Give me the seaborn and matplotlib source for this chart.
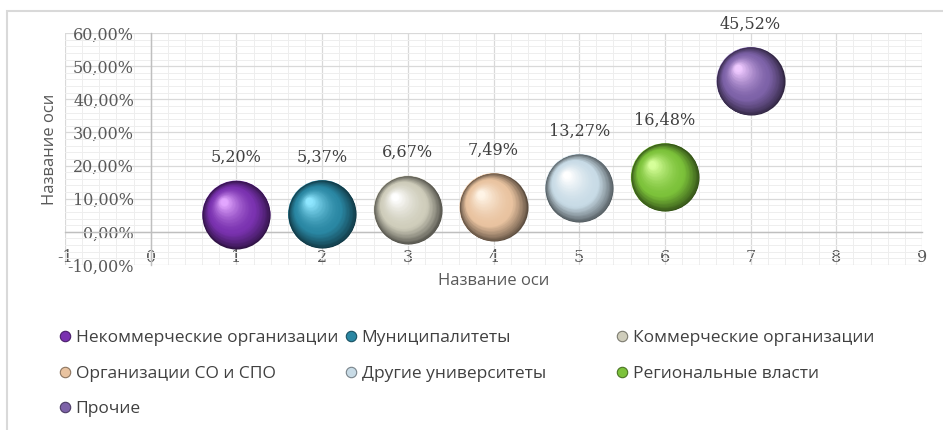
import numpy as np
import pandas as pd
import matplotlib
matplotlib.use("Agg")
import matplotlib.pyplot as plt
import matplotlib.transforms as mtransforms
from matplotlib.colors import to_rgb
from matplotlib.lines import Line2D
from matplotlib.patches import Rectangle
from matplotlib.ticker import FuncFormatter, MultipleLocator
import seaborn as sns

# --- data -------------------------------------------------------------
categories = [
    "Некоммерческие организации",
    "Муниципалитеты",
    "Коммерческие организации",
    "Организации СО и СПО",
    "Другие университеты",
    "Региональные власти",
    "Прочие",
]
positions = [1, 2, 3, 4, 5, 6, 7]
shares = [5.20, 5.37, 6.67, 7.49, 13.27, 16.48, 45.52]
colors = ["#7a32b0", "#2a87a3", "#cfcdbb", "#e9c3a0", "#c8dbe6", "#7cc23a", "#7d62a8"]
highlights = ["#e2a6ff", "#8ee6ff", "#ffffff", "#fff4e6", "#ffffff", "#d6ff9a", "#efc9ff"]
x_ticks = list(range(-1, 10))
y_ticks = list(range(-10, 61, 10))

df = pd.DataFrame({"cat": categories, "x": positions, "share": shares})

sns.set_theme(style="white")
plt.rcParams["font.family"] = ["DejaVu Sans"]

fig = plt.figure(figsize=(9.43, 4.30), dpi=100)
ax = fig.add_axes([65 / 943, 1 - 265 / 430, (922 - 65) / 943, (265 - 33) / 430])

ax.set_xlim(-1, 9)
ax.set_ylim(-10, 60)

# grid
ax.xaxis.set_major_locator(MultipleLocator(1))
ax.xaxis.set_minor_locator(MultipleLocator(0.2))
ax.yaxis.set_major_locator(MultipleLocator(10))
ax.yaxis.set_minor_locator(MultipleLocator(2))
ax.grid(which="major", color="#d9d9d9", lw=0.9)
ax.grid(which="minor", color="#eeeeee", lw=0.7)
ax.set_axisbelow(True)

for s in ["top", "right"]:
    ax.spines[s].set_visible(False)
ax.spines["left"].set_position(("data", 0))
ax.spines["bottom"].set_position(("data", 0))
for s in ["left", "bottom"]:
    ax.spines[s].set_color("#bfbfbf")
    ax.spines[s].set_linewidth(1.0)

ax.set_xticks(x_ticks)
ax.set_yticks(y_ticks)
ax.yaxis.set_major_formatter(FuncFormatter(lambda v, p: f"{v:.2f}%".replace(".", ",")))
ax.xaxis.set_major_formatter(FuncFormatter(lambda v, p: f"{int(v)}"))
ax.tick_params(axis="both", which="both", length=0)
ax.tick_params(axis="y", pad=12, labelsize=11.5, labelcolor="#595959")
ax.tick_params(axis="x", pad=12, labelsize=11.5, labelcolor="#595959")
for lbl in ax.get_xticklabels() + ax.get_yticklabels():
    lbl.set_fontfamily(["DejaVu Serif"])

ax.set_xlabel("Название оси", fontsize=12, color="#595959", family=["Open Sans", "DejaVu Sans"])
ax.set_ylabel("Название оси", fontsize=12, color="#595959", family=["Open Sans", "DejaVu Sans"])
ax.xaxis.set_label_coords(0.5, -0.036)
ax.yaxis.set_label_coords(-0.008, 0.5)

# --- bubbles ----------------------------------------------------------
diam_pt = 49.0
base_size = diam_pt ** 2

sns.scatterplot(data=df, x="x", y="share", hue="cat", palette=colors,
                s=base_size, linewidth=0, legend=False, ax=ax, zorder=3)


def mix(c1, c2, t):
    a, b = np.array(to_rgb(c1)), np.array(to_rgb(c2))
    return tuple(a + (b - a) * t)


n_layers = 70
for xv, yv, col, hi in zip(positions, shares, colors, highlights):
    dark = mix(col, "#000000", 0.6)
    for i in range(n_layers):
        t = i / (n_layers - 1)
        f = 1 - 0.9 * t
        if t < 0.35:
            c = mix(dark, col, (t / 0.35) ** 0.8)
        else:
            c = mix(col, hi, ((t - 0.35) / 0.65) ** 1.6)
        shift = (1 - f) * diam_pt / 2 * 0.42
        tr = mtransforms.offset_copy(ax.transData, fig=fig, x=-shift, y=shift, units="points")
        ax.scatter([xv], [yv], s=(diam_pt * f) ** 2, color=[c], linewidths=0,
                   transform=tr, zorder=4 + i * 0.001)

# value labels
for xv, yv in zip(positions, shares):
    ax.annotate(f"{yv:.2f}%".replace(".", ","), (xv, yv), xytext=(0, 41),
                textcoords="offset points", ha="center", va="center",
                fontsize=11.5, color="#404040",
                family=["DejaVu Serif"], zorder=6)

# --- legend -----------------------------------------------------------
handles = [Line2D([], [], marker="o", linestyle="", markersize=7.5,
                  markerfacecolor=c, markeredgecolor=mix(c, "#000000", 0.4),
                  markeredgewidth=0.8) for c in colors]
col_x = [60 / 943, 346 / 943, 617 / 943]
col_members = [[0, 3, 6], [1, 4], [2, 5]]
for cx, members in zip(col_x, col_members):
    leg = fig.legend([handles[i] for i in members], [categories[i] for i in members],
                     loc="upper left", bbox_to_anchor=(cx, 1 - 330 / 430),
                     frameon=False, ncol=1, handlelength=0.6, handletextpad=0.3,
                     labelspacing=1.12, borderaxespad=0, borderpad=0,
                     prop={"family": ["Open Sans", "DejaVu Sans"], "size": 12.5})
    for txt in leg.get_texts():
        txt.set_color("#404040")

# outer chart frame
fig.add_artist(Rectangle((7 / 943, -0.05), 1.2, 1 - 11 / 430 + 0.05,
                         transform=fig.transFigure, fill=False,
                         edgecolor="#d9d9d9", lw=1.5))

fig.savefig("out.png", dpi=100)
